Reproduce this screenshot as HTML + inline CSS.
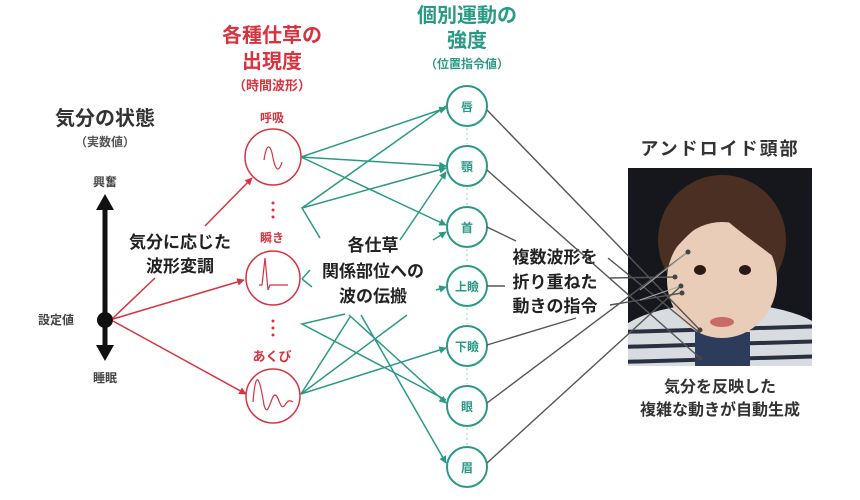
<!DOCTYPE html>
<html><head><meta charset="utf-8"><style>
html,body{margin:0;padding:0;background:#fff;}
svg{display:block;}
text{font-family:"Liberation Sans","Noto Sans CJK JP",sans-serif;font-weight:bold;}
</style></head><body>
<svg width="860" height="500" viewBox="0 0 860 500" xmlns="http://www.w3.org/2000/svg">
<defs>
<marker id="ta" viewBox="0 0 10 10" refX="9" refY="5" markerWidth="5" markerHeight="5" orient="auto"><path d="M0,0L10,5L0,10z" fill="#2a9a85"/></marker>
<marker id="ra" viewBox="0 0 10 10" refX="9" refY="5" markerWidth="5" markerHeight="5" orient="auto"><path d="M0,0L10,5L0,10z" fill="#d9333f"/></marker>
<clipPath id="pc"><rect x="628" y="168" width="184" height="198"/></clipPath>
</defs>

<g text-anchor="middle">
<text x="105" y="125" font-size="20" fill="#333">気分の状態</text>
<text x="105" y="146" font-size="12" fill="#555">（実数値）</text>
<text x="272" y="42" font-size="20" fill="#d9333f">各種仕草の</text>
<text x="272" y="68" font-size="20" fill="#d9333f">出現度</text>
<text x="272" y="90" font-size="13" fill="#d9333f">（時間波形）</text>
<text x="467" y="22" font-size="20" fill="#2a9a85">個別運動の</text>
<text x="467" y="47" font-size="20" fill="#2a9a85">強度</text>
<text x="467" y="68" font-size="12" fill="#2a9a85">（位置指令値）</text>
<text x="720" y="155" font-size="18" fill="#333" letter-spacing="2" font-weight="normal">アンドロイド頭部</text>
<text x="720" y="392" font-size="16" fill="#333">気分を反映した</text>
<text x="720" y="415" font-size="16" fill="#333">複雑な動きが自動生成</text>
<text x="105" y="186" font-size="12" fill="#444">興奮</text>
<text x="105" y="382" font-size="12" fill="#444">睡眠</text>
<text x="180" y="248" font-size="17" fill="#222">気分に応じた</text>
<text x="180" y="272" font-size="17" fill="#222">波形変調</text>
<text x="373" y="251" font-size="17" fill="#222">各仕草</text>
<text x="373" y="277" font-size="17" fill="#222">関係部位への</text>
<text x="373" y="302" font-size="17" fill="#222">波の伝搬</text>
<text x="555" y="263" font-size="17" fill="#222">複数波形を</text>
<text x="555" y="288" font-size="17" fill="#222">折り重ねた</text>
<text x="555" y="312" font-size="17" fill="#222">動きの指令</text>
<text x="272" y="122" font-size="12" fill="#d9333f">呼吸</text>
<text x="272" y="242" font-size="12" fill="#d9333f">瞬き</text>
<text x="272" y="361" font-size="13" fill="#d9333f">あくび</text>
</g>
<text x="38" y="324" font-size="12" fill="#444">設定値</text>

<line x1="105" y1="210" x2="105" y2="345" stroke="#111" stroke-width="5"/>
<path d="M96,210L105,194L114,210z" fill="#111"/>
<path d="M96,345L105,361L114,345z" fill="#111"/>
<circle cx="105" cy="320" r="8" fill="#111"/>

<g stroke="#d9333f" stroke-width="1.5" fill="none">
<line x1="205" y1="226" x2="252" y2="178" marker-end="url(#ra)"/>
<line x1="155" y1="278" x2="113" y2="318"/>
<line x1="113" y1="319" x2="244" y2="280" marker-end="url(#ra)"/>
<line x1="113" y1="321" x2="246" y2="394" marker-end="url(#ra)"/>
<circle cx="273" cy="157" r="28"/>
<circle cx="273" cy="278" r="27"/>
<circle cx="273" cy="396" r="27"/>
<path d="M264,160 C267,140 271,146 273,158 C276,172 279,172 282,162" stroke-width="1.2"/>
<path d="M259,285 L262,285 L265,258 L268,290 L270,285 L288,285" stroke-width="1.2"/>
<path d="M253,402 C256,365 260,380 264,405 C268,420 271,395 275,395 C279,395 280,412 285,405 C288,400 290,400 293,402" stroke-width="1.2"/>
</g>
<g fill="#d9333f"><circle cx="273" cy="203" r="1.5"/><circle cx="273" cy="210" r="1.5"/><circle cx="273" cy="217" r="1.5"/>
<circle cx="273" cy="321" r="1.5"/><circle cx="273" cy="328" r="1.5"/><circle cx="273" cy="335" r="1.5"/></g>

<g stroke="#2a9a85" stroke-width="1.5" fill="none">
<line x1="301" y1="157" x2="446" y2="108" marker-end="url(#ta)"/>
<line x1="301" y1="157" x2="446" y2="166" marker-end="url(#ta)"/>
<line x1="301" y1="157" x2="446" y2="225" marker-end="url(#ta)"/>
<polyline points="446,106 302,208 320,238"/>
<line x1="302" y1="208" x2="446" y2="168" marker-end="url(#ta)"/>
<line x1="400" y1="240" x2="446" y2="172" marker-end="url(#ta)"/>
<line x1="433" y1="240" x2="446" y2="232" marker-end="url(#ta)"/>
<line x1="312" y1="287" x2="302" y2="279"/>
<line x1="302" y1="279" x2="310" y2="270"/>
<line x1="436" y1="290" x2="446" y2="287" marker-end="url(#ta)"/>
<polyline points="345,314 302,324 446,400"/>
<line x1="301" y1="394" x2="350" y2="317"/>
<line x1="301" y1="394" x2="407" y2="315"/>
<line x1="301" y1="394" x2="446" y2="348" marker-end="url(#ta)"/>
<line x1="361" y1="315" x2="446" y2="463" marker-end="url(#ta)"/>
<line x1="349" y1="315" x2="446" y2="403" marker-end="url(#ta)"/>
<circle cx="467" cy="106" r="20" stroke-width="2"/>
<circle cx="467" cy="166" r="20" stroke-width="2"/>
<circle cx="467" cy="227" r="20" stroke-width="2"/>
<circle cx="467" cy="286" r="20" stroke-width="2"/>
<circle cx="467" cy="346" r="20" stroke-width="2"/>
<circle cx="467" cy="406" r="20" stroke-width="2"/>
<circle cx="467" cy="467" r="20" stroke-width="2"/>
</g>
<g stroke="#9bcbc0" stroke-width="1" stroke-dasharray="2,3">
<line x1="467" y1="128" x2="467" y2="144"/><line x1="467" y1="188" x2="467" y2="205"/>
<line x1="467" y1="249" x2="467" y2="264"/><line x1="467" y1="308" x2="467" y2="324"/>
<line x1="467" y1="368" x2="467" y2="384"/><line x1="467" y1="428" x2="467" y2="445"/>
</g>
<g text-anchor="middle" font-size="12" fill="#2a9a85">
<text x="467" y="111">唇</text><text x="467" y="171">顎</text><text x="467" y="232">首</text>
<text x="467" y="291">上瞼</text><text x="467" y="351">下瞼</text><text x="467" y="411">眼</text><text x="467" y="472">眉</text>
</g>

<g clip-path="url(#pc)">
<rect x="628" y="168" width="184" height="198" fill="#15171d"/>
<ellipse cx="722" cy="345" rx="110" ry="42" fill="#d8dbe0"/>
<g stroke="#2a3040" stroke-width="4"><line x1="620" y1="332" x2="830" y2="326"/><line x1="620" y1="347" x2="830" y2="341"/><line x1="620" y1="362" x2="830" y2="356"/></g>
<rect x="695" y="332" width="55" height="40" fill="#2c3c5a"/>
<ellipse cx="722" cy="240" rx="64" ry="65" fill="#4a2f22"/>
<ellipse cx="722" cy="280" rx="55" ry="58" fill="#e9cdb9"/>
<path d="M670,255 C690,230 705,222 716,210 C735,230 760,245 780,262 L784,225 C772,192 742,182 720,185 C695,185 665,205 662,245z" fill="#4a2f22"/>
<ellipse cx="700" cy="270" rx="6" ry="5" fill="#2a1a14"/>
<ellipse cx="745" cy="270" rx="6" ry="5" fill="#2a1a14"/>
<ellipse cx="722" cy="322" rx="12" ry="5" fill="#c86a66"/>
</g>

<g stroke="#555" stroke-width="1.4" fill="none">
<line x1="487" y1="110" x2="700" y2="330"/>
<line x1="487" y1="170" x2="700" y2="358"/>
<line x1="487" y1="227" x2="516" y2="241"/>
<line x1="487" y1="286" x2="505" y2="286"/>
<line x1="610" y1="278" x2="675" y2="277"/>
<line x1="610" y1="305" x2="682" y2="293"/>
<line x1="487" y1="345" x2="576" y2="318"/>
<line x1="487" y1="403" x2="688" y2="252"/>
<line x1="487" y1="463" x2="681" y2="286"/>
<line x1="608" y1="258" x2="700" y2="333"/>
</g>
<g stroke="#aaa" stroke-width="1" fill="none">
<line x1="640" y1="290" x2="688" y2="252"/><line x1="640" y1="300" x2="681" y2="286"/>
</g>
<g fill="#444"><circle cx="688" cy="252" r="2.5"/><circle cx="675" cy="277" r="2.5"/><circle cx="681" cy="286" r="2.5"/><circle cx="682" cy="293" r="2.5"/><circle cx="700" cy="330" r="2.5"/><circle cx="700" cy="358" r="2.5"/></g>
</svg>
</body></html>
